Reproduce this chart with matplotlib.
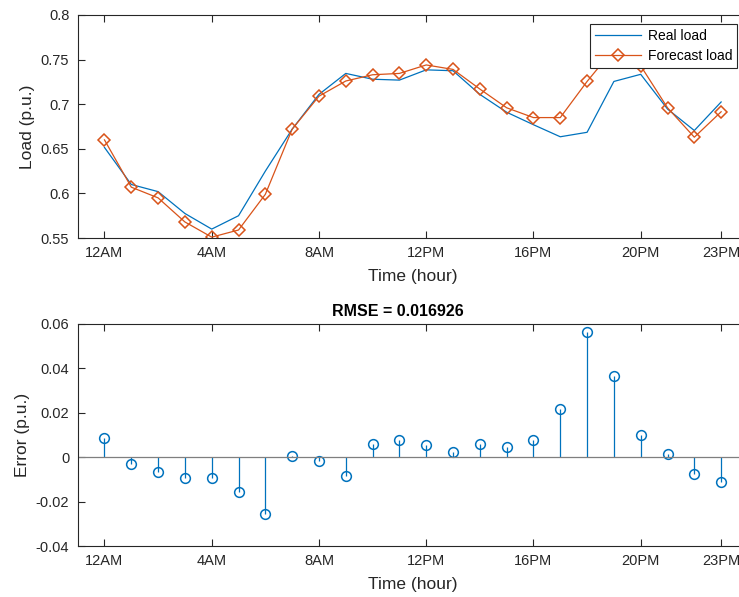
import matplotlib
matplotlib.use("Agg")
import matplotlib.pyplot as plt

# hourly data
hours = list(range(24))
real_load = [0.6515, 0.610, 0.602, 0.5775, 0.560, 0.575, 0.625, 0.672, 0.711, 0.7345,
             0.728, 0.727, 0.7385, 0.7375, 0.711, 0.691, 0.677, 0.6635, 0.6685, 0.7255,
             0.7335, 0.6946, 0.6705, 0.7025]
forecast_load = [0.660, 0.607, 0.595, 0.568, 0.551, 0.559, 0.599, 0.672, 0.709, 0.726,
                 0.733, 0.7345, 0.744, 0.739, 0.717, 0.696, 0.685, 0.685, 0.7255, 0.762,
                 0.743, 0.696, 0.663, 0.6915]
error = [0.0085, -0.0031, -0.0067, -0.0095, -0.0094, -0.0158, -0.0257, 0.0004, -0.0019, -0.0085,
         0.0058, 0.0076, 0.0055, 0.0023, 0.0059, 0.0047, 0.0076, 0.0217, 0.0565, 0.0367,
         0.0101, 0.0014, -0.0074, -0.0112]

tick_hours = [0, 4, 8, 12, 16, 20, 23]
tick_labels = ["12AM", "4AM", "8AM", "12PM", "16PM", "20PM", "23PM"]
load_ticks = [0.55, 0.6, 0.65, 0.7, 0.75, 0.8]
load_tick_labels = ["0.55", "0.6", "0.65", "0.7", "0.75", "0.8"]
err_ticks = [-0.04, -0.02, 0, 0.02, 0.04, 0.06]
err_tick_labels = ["-0.04", "-0.02", "0", "0.02", "0.04", "0.06"]
rmse_text = "RMSE = 0.016926"

blue = "#0072BD"
orange = "#D95319"
axcol = "#262626"

plt.rcParams["font.family"] = ["Liberation Sans", "DejaVu Sans"]

fig = plt.figure(figsize=(7.39, 5.97), dpi=100)
ax1 = fig.add_axes([0.1051, 0.6013, 0.907, 0.3736])
ax2 = fig.add_axes([0.1051, 0.0854, 0.907, 0.3719])


def style_axis(ax):
    for s in ax.spines.values():
        s.set_color(axcol)
        s.set_linewidth(0.8)
    ax.tick_params(direction="in", length=5, width=0.8, colors=axcol,
                   labelsize=10.5, top=True, right=True, pad=6)
    ax.set_xlim(-1, 24)
    ax.set_xticks(tick_hours)
    ax.set_xticklabels(tick_labels)
    ax.set_xlabel("Time (hour)", fontsize=12.5, color=axcol, labelpad=6)


# top panel: load curves
ax1.plot(hours, real_load, color=blue, lw=0.9, label="Real load")
ax1.plot(hours, forecast_load, color=orange, lw=0.9, marker="D", markersize=6.5,
         markerfacecolor="none", markeredgewidth=1.1, label="Forecast load")
style_axis(ax1)
ax1.set_ylim(0.55, 0.8)
ax1.set_yticks(load_ticks)
ax1.set_yticklabels(load_tick_labels)
ax1.set_ylabel("Load (p.u.)", fontsize=12.5, color=axcol, labelpad=4)
leg = ax1.legend(loc="upper right", bbox_to_anchor=(0.984, 0.96), fontsize=10,
                 fancybox=False, framealpha=1, edgecolor=axcol, borderpad=0.35,
                 labelspacing=0.45, handlelength=3.3, handletextpad=0.5, borderaxespad=0)
leg.get_frame().set_linewidth(0.8)

# bottom panel: stem of errors
markers, stems, base = ax2.stem(hours, error, basefmt="-")
plt.setp(stems, color=blue, linewidth=0.9)
plt.setp(markers, color=blue, marker="o", markersize=7, markerfacecolor="none",
         markeredgewidth=1.1)
plt.setp(base, color="#7f7f7f", linewidth=0.9)
base.set_xdata([-1, 24])
style_axis(ax2)
ax2.set_ylim(-0.04, 0.06)
ax2.set_yticks(err_ticks)
ax2.set_yticklabels(err_tick_labels)
ax2.set_ylabel("Error (p.u.)", fontsize=12.5, color=axcol, labelpad=4)
ax2.set_title(rmse_text, fontsize=11.5, fontweight="bold", pad=6, x=0.477)

fig.savefig("out.png", dpi=100)
